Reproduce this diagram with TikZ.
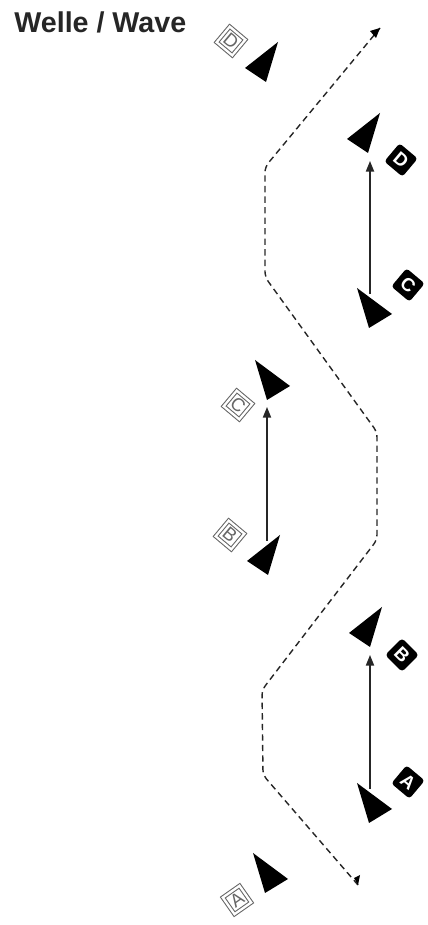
\documentclass[tikz,border=0pt]{standalone}
\usepackage{fontspec}
\setmainfont{Liberation Sans}
\usetikzlibrary{arrows.meta}

\begin{document}
\begin{tikzpicture}[
    x=0.02cm, y=0.02cm,
    title/.style={font=\fontsize{16.3}{18}\selectfont\bfseries, text=black!85, anchor=west, inner sep=0pt},
    tagopen/.style={
      rectangle, draw=black!60, double, double distance=1.3pt, line width=0.6pt,
      minimum size=11.6pt, inner sep=0pt, text=black!60,
      font=\fontsize{10.5}{11}\selectfont
    },
    tagfill/.style={
      rectangle, rounded corners=1.8pt, fill=black, text=white,
      minimum size=13.5pt, inner sep=0pt,
      font=\fontsize{10.5}{11}\selectfont\bfseries
    },
    track/.style={dashed, dash pattern=on 3.6pt off 2.4pt, line width=0.8pt,
      rounded corners=3pt, black!85},
    move/.style={-{Triangle[length=6pt,width=4.6pt]}, line width=0.85pt, black!85},
    sailR/.pic={
      \fill (0,0) -- (-33,-26) -- (-12,-40) -- cycle;
      \coordinate (-stern) at (-10,-48);
      \coordinate (-bow)   at (-13,-6);
    },
    sailL/.pic={
      \fill (0,0) -- (35,-26) -- (12,-40) -- cycle;
      \coordinate (-stern) at (12,-47);
      \coordinate (-bow)   at (13,-6);
    },
  ]
    \useasboundingbox (0,0) rectangle (428,925);

    \node[title] (head) at (14,903) {Welle / Wave};

    % track of the wave
    \coordinate (trackS) at (358,40);
    \coordinate (trackE) at (380,897);
    \draw[track] (trackS) -- (263,150) -- (262,235) -- (377,385) -- (377,493)
      -- (265,648) -- (265,758) -- (trackE);
    \fill (trackE) -- ++(-10,-3) -- ++(6,-7) -- cycle;
    \fill (trackS) -- ++(-4,7) -- ++(6,3) -- cycle;

    % sails
    \pic (aO) at (253,72)  {sailL};
    \pic (aF) at (357,142) {sailL};
    \pic (bF) at (382,318) {sailR};
    \pic (bO) at (280,390) {sailR};
    \pic (cO) at (255,565) {sailL};
    \pic (cF) at (357,637) {sailL};
    \pic (dF) at (380,812) {sailR};
    \pic (dO) at (278,883) {sailR};

    % tags
    \node[tagopen, rotate=35]  (tagAO) at (237,25)  {A};
    \node[tagfill, rotate=-40] (tagAF) at (408,143) {A};
    \node[tagfill, rotate=-45] (tagBF) at (402,270) {B};
    \node[tagopen, rotate=-40] (tagBO) at (230,390) {B};
    \node[tagopen, rotate=-40] (tagCO) at (238,520) {C};
    \node[tagfill, rotate=-40] (tagCF) at (408,640) {C};
    \node[tagfill, rotate=-40] (tagDF) at (401,765) {D};
    \node[tagopen, rotate=-40] (tagDO) at (231,884) {D};

    % moves
    \draw[move] (aF-bow) -- (aF-bow |- bF-stern);
    \draw[move] (bO-bow) -- (bO-bow |- cO-stern);
    \draw[move] (cF-bow) -- (cF-bow |- dF-stern);
  \end{tikzpicture}
\end{document}
